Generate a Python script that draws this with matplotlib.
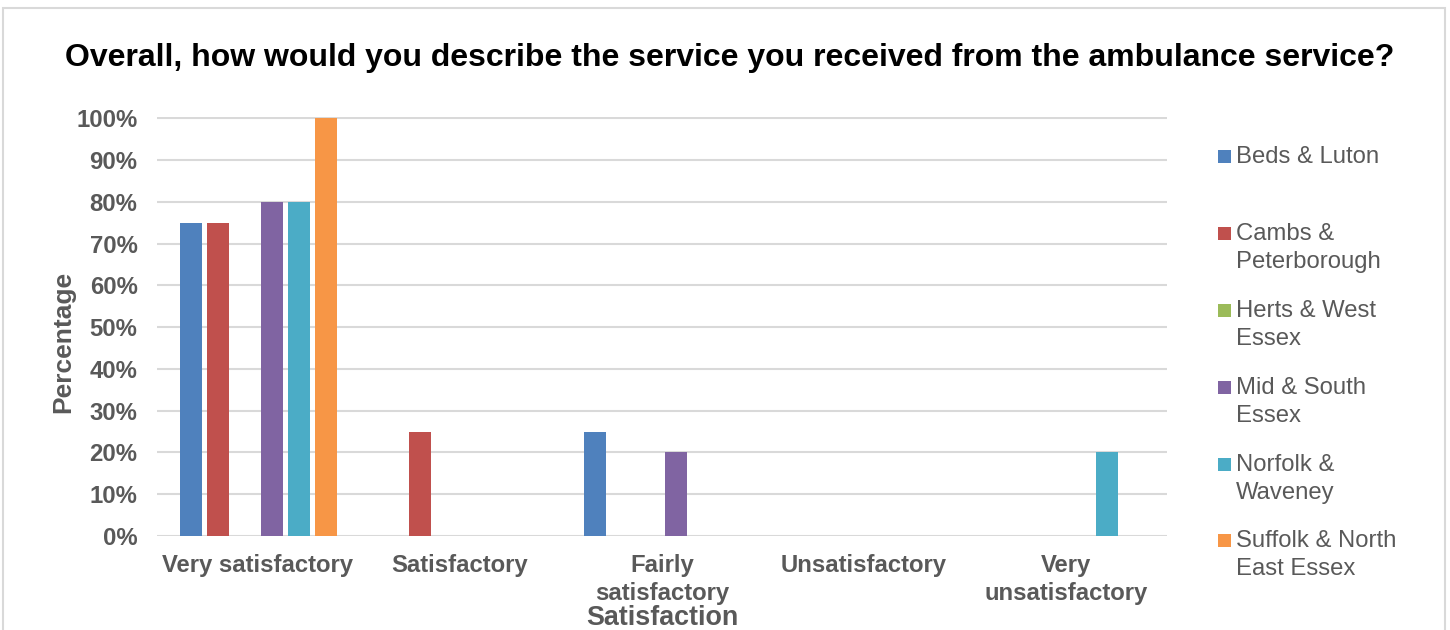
import matplotlib
matplotlib.use("Agg")
import matplotlib.pyplot as plt
from matplotlib.patches import Rectangle
from matplotlib.ticker import PercentFormatter
import numpy as np

plt.rcParams['font.family'] = ['Liberation Sans', 'DejaVu Sans']

categories = ["Very satisfactory", "Satisfactory", "Fairly\nsatisfactory", "Unsatisfactory", "Very\nunsatisfactory"]
series_names = ["Beds & Luton", "Cambs &\nPeterborough", "Herts & West\nEssex", "Mid & South\nEssex", "Norfolk &\nWaveney", "Suffolk & North\nEast Essex"]
beds_luton = [75, 0, 25, 0, 0]
cambs_peterborough = [75, 25, 0, 0, 0]
herts_west_essex = [0, 0, 0, 0, 0]
mid_south_essex = [80, 0, 20, 0, 0]
norfolk_waveney = [80, 0, 0, 0, 20]
suffolk_ne_essex = [100, 0, 0, 0, 0]
series_values = [beds_luton, cambs_peterborough, herts_west_essex, mid_south_essex, norfolk_waveney, suffolk_ne_essex]
colors = ["#4F81BD", "#C0504D", "#9BBB59", "#8064A2", "#4BACC6", "#F79646"]
yticks = list(range(0, 101, 10))

TXT = "#595959"
W, H = 1450, 630
fig = plt.figure(figsize=(W / 100, H / 100), dpi=100)

# outer chart frame
fig.patches.append(Rectangle((3 / W, -0.05), (1445 - 3) / W, 1 - 8 / H + 0.05, transform=fig.transFigure,
                             fill=False, edgecolor="#d9d9d9", linewidth=1.5))

ax = fig.add_axes([157 / W, 1 - 536 / H, (1167 - 157) / W, (536 - 117) / H])
x = np.arange(len(categories))
step = 27 / 202
bw = 22 / 202
for i, (vals, c) in enumerate(zip(series_values, colors)):
    ax.bar(x + (i - 2.5) * step, vals, width=bw, color=c, zorder=3)

ax.set_xlim(-0.5, len(categories) - 0.5)
ax.set_ylim(0, 100.3)
ax.set_yticks(yticks)
ax.yaxis.set_major_formatter(PercentFormatter(decimals=0))
ax.set_xticks(x)
ax.set_xticklabels(categories)
ax.grid(axis='y', color="#d9d9d9", linewidth=1.5, zorder=0)
for s in ax.spines.values():
    s.set_visible(False)
ax.tick_params(axis='both', length=0, labelcolor=TXT, labelsize=17.2)
ax.tick_params(axis='y', pad=14)
ax.tick_params(axis='x', pad=13)
for lab in ax.get_xticklabels() + ax.get_yticklabels():
    lab.set_fontweight('bold')
    lab.set_linespacing(1.25)

fig.text(662 / W, 1 - 618 / H, "Satisfaction", ha='center', va='center', fontsize=19.4, fontweight='bold', color=TXT)
fig.text(63 / W, 1 - 342 / H, "Percentage", ha='center', va='center', rotation=90, fontsize=19, fontweight='bold', color=TXT)

fig.text(730 / W, 1 - 58 / H, "Overall, how would you describe the service you received from the ambulance service?",
         ha='center', va='center', fontsize=23, fontweight='bold', color='black')

# legend
legend_y = [157, 234, 311, 388, 465, 541]
for name, c, yy in zip(series_names, colors, legend_y):
    fig.patches.append(Rectangle((1218 / W, 1 - (yy + 6) / H), 13 / W, 13 / H, transform=fig.transFigure,
                                 facecolor=c, edgecolor='none'))
    fig.text(1236 / W, 1 - (yy - 11) / H, name, ha='left', va='top', fontsize=17.2, color=TXT, linespacing=1.33)

fig.savefig("out.png", dpi=100)
